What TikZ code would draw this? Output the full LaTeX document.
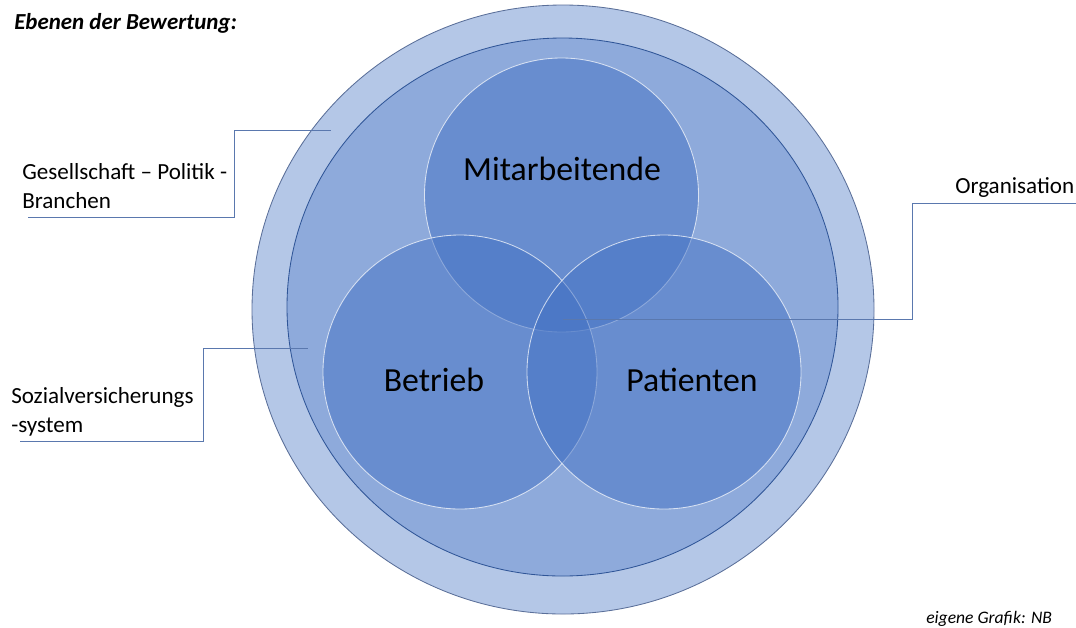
\documentclass[tikz,border=0pt]{standalone}
\usepackage{fontspec}
\setmainfont{Carlito}
\usepackage{xcolor}
\usepackage{tikz}
\usetikzlibrary{positioning}

\definecolor{ringouter}{HTML}{B4C7E7}
\definecolor{ringinner}{HTML}{8EAADB}
\definecolor{venn}{HTML}{4472C4}
\definecolor{rim}{HTML}{2F5597}
\definecolor{rimsoft}{HTML}{5A6F99}
\definecolor{leader}{HTML}{5A78AE}

\tikzset{
	vennset/.style={fill=venn,fill opacity=0.5,draw=white,draw opacity=0.7,line width=0.6pt},
	leaderline/.style={draw=leader,line width=0.7pt},
	bigname/.style={font=\fontsize{24}{28}\selectfont,text=black,inner sep=0pt},
	sidename/.style={font=\fontsize{16.4}{21}\selectfont,align=left,anchor=west,inner sep=0pt},
}

\begin{document}
\begin{tikzpicture}[x=0.025cm,y=-0.025cm]
	\useasboundingbox (0,0) rectangle (1076,627);
	\draw[rimsoft,line width=0.6pt,fill=ringouter] (563,309.5) ellipse (311 and 304.5);
	\draw[rim,line width=0.6pt,fill=ringinner] (562.5,307) ellipse (275.5 and 269);
	\draw[vennset] (561.5,195) circle (137);
	\draw[vennset] (460,372) circle (137);
	\draw[vennset] (664,372) circle (137);
	\node[bigname] (mitarbeitende) at (562,169) {Mitarbeitende};
	\node[bigname] (betrieb) at (434,380) {Betrieb};
	\node[bigname] (patienten) at (692,380) {Patienten};
	\node[font=\bfseries\itshape\fontsize{16.3}{19}\selectfont,anchor=west,inner sep=0pt] (titel) at (14,23) {Ebenen der Bewertung:};
	\node[sidename] (gesellschaft) at (22,186) {Gesellschaft – Politik -\\Branchen};
	\node[sidename] (sozial) at (11,412) {Sozialversicherungs\\-system};
	\node[sidename] (organisation) at (955,187) {Organisation};
	\node[font=\itshape\fontsize{12.5}{15}\selectfont,anchor=west,inner sep=0pt] (quelle) at (926,619) {eigene Grafik: NB};
	\coordinate (ges foot) at (28,217);
	\coordinate (ges tip) at (331,130);
	\coordinate (soz foot) at (20,441);
	\coordinate (soz tip) at (308,348);
	\coordinate (hub) at (563,319);
	\coordinate (org tip) at (1076,203);
	\draw[leaderline] (ges foot) -- ++(206,0) |- (ges tip);
	\draw[leaderline] (soz foot) -- ++(183,0) |- (soz tip);
	\draw[leaderline] (hub) -- ++(349,0) |- (org tip);
\end{tikzpicture}
\end{document}
